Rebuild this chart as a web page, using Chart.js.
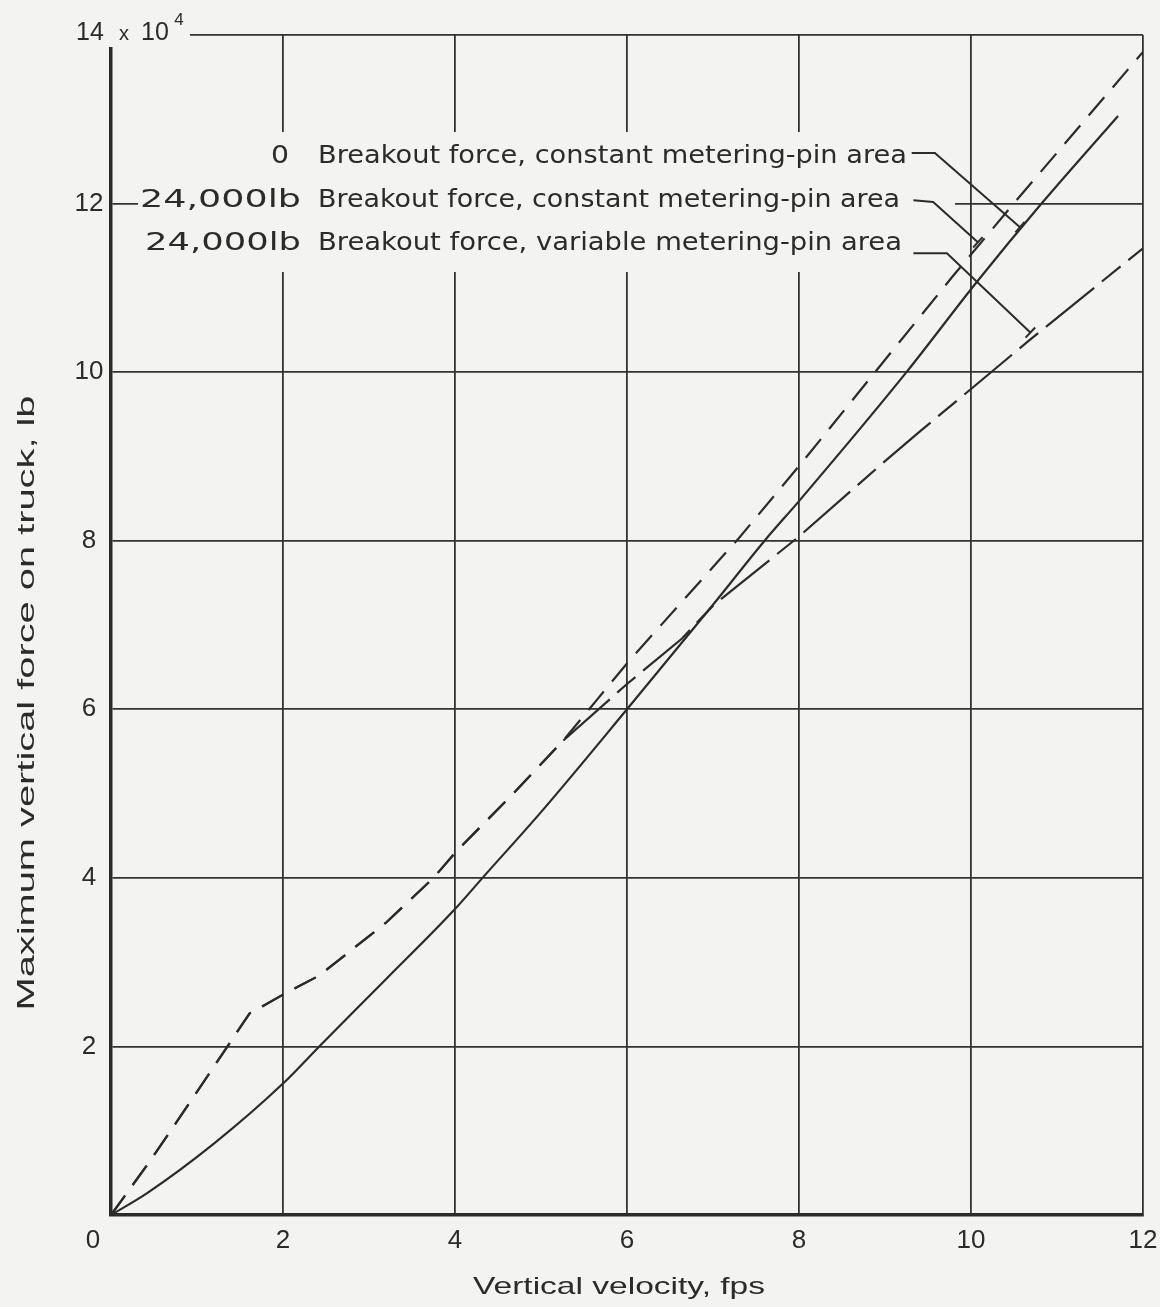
<!DOCTYPE html>
<html>
<head>
<meta charset="utf-8">
<script src="https://cdn.jsdelivr.net/npm/chart.js@4.4.1/dist/chart.umd.min.js"></script>
<style>
  html, body { margin: 0; padding: 0; background: #f3f3f1; }
  canvas { display: block; }
</style>
</head>
<body>
<canvas id="myChart" width="1160" height="1307"></canvas>
<script>
// curve readings, force in units of 10^4 lb
var velConst0 = [0, 0.42, 1.2, 2.0, 2.45, 3.2, 4.0, 4.32, 5.0, 6.0, 7.0, 7.6, 8.0, 9.25, 10.06, 10.82, 11.71]
var forceConst0 = [0, 0.26, 0.85, 1.56, 2.03, 2.8, 3.63, 4.0, 4.78, 6.0, 7.24, 8.0, 8.47, 10.0, 11.06, 12.0, 13.04]

var velConst24 = [0, 0.46, 0.96, 1.61, 2.01, 2.42, 3.2, 3.75, 4.02, 4.64, 5.26, 5.64, 6.02, 7.3, 8.02, 8.9, 9.79, 10.48, 12.0]
var forceConst24 = [0, 0.65, 1.4, 2.39, 2.62, 2.84, 3.47, 4.0, 4.32, 4.96, 5.63, 6.1, 6.57, 8.03, 8.91, 10.02, 11.14, 11.98, 13.8]

// variable pin area shares the dashed curve up to about 5.26 fps
var splitVel = 5.26
var velVar24 = [0, 0.46, 0.96, 1.61, 2.01, 2.42, 3.2, 3.75, 4.02, 4.64, 5.26, 6.0, 6.64, 7.01, 8.0, 8.95, 9.41, 10.0, 10.68, 12.0]
var forceVar24 = [0, 0.65, 1.4, 2.39, 2.62, 2.84, 3.47, 4.0, 4.32, 4.96, 5.63, 6.3, 6.84, 7.24, 8.05, 8.9, 9.3, 9.8, 10.38, 11.47]

var xTicks = [0, 2, 4, 6, 8, 10, 12]
var yTicks = [2, 4, 6, 8, 10, 12]

var labelLead = ["0", "24,000lb", "24,000lb"]
var labelText = [
    "Breakout force, constant metering-pin area",
    "Breakout force, constant metering-pin area",
    "Breakout force, variable metering-pin area"
]
// leader lines: start, elbow, end on curve (vel, force)
var leaders = [
    [[9.31, 12.6], [9.58, 12.6], [10.57, 11.72]],
    [[9.33, 12.04], [9.56, 12.02], [10.08, 11.54]],
    [[9.33, 11.41], [9.72, 11.41], [10.69, 10.47]]
]

var paper = "#f3f3f1"
var ink = "#2b2b2b"

function pts(xs, ys) {
    return xs.map(function (v, i) { return {x: v, y: ys[i]} })
}

function fitText(ctx, str, x, y, w, align) {
    var m = ctx.measureText(str).width
    ctx.save()
    ctx.translate(x, y)
    ctx.scale(w / m, 1)
    ctx.textAlign = "left"
    var x0 = 0
    if (align === "right") x0 = -m
    if (align === "center") x0 = -m / 2
    ctx.fillText(str, x0, 0)
    ctx.restore()
}

var paperText = {
    id: "paperText",
    beforeDatasetsDraw: function (chart) {
        var ctx = chart.ctx
        var xs = chart.scales.x
        var ys = chart.scales.y
        ctx.save()
        // blank paper behind the legend lettering and the top-left label
        ctx.fillStyle = paper
        ctx.fillRect(138, 132, 817, 140)
        ctx.fillRect(60, 10, 130, 37)

        ctx.fillStyle = ink
        ctx.textBaseline = "middle"

        // legend text
        var rowY = [156, 200, 243]
        var leadW = [18, 161, 156]
        var leadR = [289, 301, 301]
        var textW = [589, 582, 584]
        ctx.font = "25px 'DejaVu Sans'"
        for (var i = 0; i < 3; i++) {
            fitText(ctx, labelLead[i], leadR[i], rowY[i], leadW[i], "right")
            fitText(ctx, labelText[i], 318, rowY[i], textW[i], "left")
        }

        // tick labels
        ctx.font = "26px 'Liberation Sans'"
        ctx.textAlign = "center"
        for (var j = 0; j < xTicks.length; j++) {
            var px = xs.getPixelForValue(xTicks[j])
            if (xTicks[j] === 0) px -= 18
            ctx.fillText(String(xTicks[j]), px, 1241)
        }
        for (var k = 0; k < yTicks.length; k++) {
            ctx.fillText(String(yTicks[k]), 89, ys.getPixelForValue(yTicks[k]))
        }
        // 14 x 10^4
        ctx.font = "25px 'Liberation Sans'"
        ctx.fillText("14", 90, ys.getPixelForValue(14) - 2)
        ctx.font = "20px 'Liberation Sans'"
        ctx.fillText("x", 124, ys.getPixelForValue(14) - 1)
        ctx.font = "25px 'Liberation Sans'"
        ctx.fillText("10", 155, ys.getPixelForValue(14) - 2)
        ctx.font = "17px 'Liberation Sans'"
        ctx.fillText("4", 179, ys.getPixelForValue(14) - 15)

        // axis titles
        ctx.font = "24px 'Liberation Sans'"
        fitText(ctx, "Vertical velocity, fps", 619, 1287, 292, "center")
        ctx.save()
        ctx.translate(27, 703)
        ctx.rotate(-Math.PI / 2)
        fitText(ctx, "Maximum vertical force on truck, lb", 0, 0, 615, "center")
        ctx.restore()
        ctx.restore()
    },
    afterDatasetsDraw: function (chart) {
        var ctx = chart.ctx
        var xs = chart.scales.x
        var ys = chart.scales.y
        ctx.save()
        ctx.strokeStyle = ink
        ctx.lineWidth = 2
        for (var i = 0; i < leaders.length; i++) {
            var p = leaders[i].map(function (q) {
                return [xs.getPixelForValue(q[0]), ys.getPixelForValue(q[1])]
            })
            ctx.beginPath()
            ctx.moveTo(p[0][0], p[0][1])
            ctx.lineTo(p[1][0], p[1][1])
            ctx.lineTo(p[2][0], p[2][1])
            ctx.stroke()
            // small cross tick at the end
            var dx = p[2][0] - p[1][0]
            var dy = p[2][1] - p[1][1]
            var len = Math.sqrt(dx * dx + dy * dy)
            var nx = -dy / len * 7
            var ny = dx / len * 7
            ctx.beginPath()
            ctx.moveTo(p[2][0] - nx, p[2][1] - ny)
            ctx.lineTo(p[2][0] + nx, p[2][1] + ny)
            ctx.stroke()
        }
        ctx.restore()
    }
}

var dashShort = [24, 13]
var dashLong = [62, 10, 24, 10]

var chartCtx = document.getElementById("myChart")
var myChart = new Chart(chartCtx, {
    type: "line",
    data: {
        datasets: [
            {
                label: "0 Breakout force, constant metering-pin area",
                data: pts(velConst0, forceConst0),
                borderColor: ink,
                borderWidth: 2.2,
                cubicInterpolationMode: "monotone",
                pointRadius: 0,
            },
            {
                label: "24,000lb Breakout force, constant metering-pin area",
                data: pts(velConst24, forceConst24),
                borderColor: ink,
                borderWidth: 2.2,
                borderDash: dashShort,
                tension: 0,
                pointRadius: 0,
            },
            {
                label: "24,000lb Breakout force, variable metering-pin area",
                data: pts(velVar24, forceVar24),
                borderColor: ink,
                borderWidth: 2.2,
                borderDash: dashShort,
                tension: 0,
                pointRadius: 0,
                segment: {
                    borderDash: function (c) {
                        return c.p0.parsed.x >= splitVel ? dashLong : undefined
                    }
                },
            },
        ],
    },
    options: {
        responsive: false,
        animation: false,
        devicePixelRatio: 1,
        layout: {padding: {left: 111, right: 17, top: 35, bottom: 92}},
        plugins: {
            legend: {display: false},
            tooltip: {enabled: false},
        },
        scales: {
            x: {
                type: "linear",
                min: 0,
                max: 12,
                ticks: {display: false, stepSize: 2},
                grid: {color: "#333333", lineWidth: 1.8, drawTicks: false},
                border: {color: ink, width: 3.5},
            },
            y: {
                min: 0,
                max: 14,
                ticks: {display: false, stepSize: 2},
                grid: {color: "#333333", lineWidth: 1.8, drawTicks: false},
                border: {color: ink, width: 3.5},
            },
        },
    },
    plugins: [paperText],
})
</script>
</body>
</html>
